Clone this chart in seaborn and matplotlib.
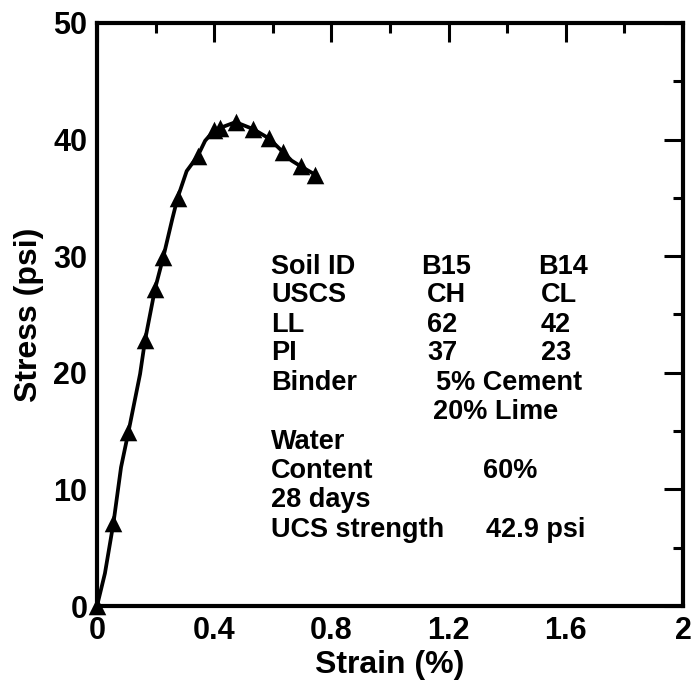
import matplotlib
matplotlib.use("Agg")
import matplotlib.pyplot as plt
import seaborn as sns
import pandas as pd
from matplotlib.ticker import MultipleLocator

# ---- data ----
curve_strain = [0.0, 0.027, 0.056, 0.082, 0.107, 0.147, 0.164, 0.198, 0.226, 0.257,
                0.275, 0.306, 0.344, 0.369, 0.400, 0.420, 0.473, 0.533, 0.587, 0.636,
                0.664, 0.696, 0.744]
curve_stress = [0.0, 2.8, 7.1, 11.9, 14.9, 19.9, 22.8, 27.2, 29.9, 33.2,
                35.0, 37.3, 38.6, 39.9, 40.8, 41.0, 41.5, 40.9, 40.1, 38.9,
                38.2, 37.7, 37.0]
marker_strain = [0.0, 0.056, 0.107, 0.164, 0.198, 0.226, 0.275, 0.344, 0.400, 0.420,
                 0.473, 0.533, 0.587, 0.636, 0.696, 0.744]
marker_stress = [0.0, 7.1, 14.9, 22.8, 27.2, 29.9, 35.0, 38.6, 40.8, 41.0,
                 41.5, 40.9, 40.1, 38.9, 37.7, 37.0]

x_ticks = [0, 0.4, 0.8, 1.2, 1.6, 2]
x_ticklabels = ["0", "0.4", "0.8", "1.2", "1.6", "2"]
y_ticks = [0, 10, 20, 30, 40, 50]
y_ticklabels = ["0", "10", "20", "30", "40", "50"]

col1_text = ["Soil ID", "USCS", "LL", "PI", "Binder", "", "Water", "Content", "28 days", "UCS strength"]
col2_text = ["B15", "CH", "62", "37", "5% Cement", "20% Lime", "", "60%", "", "42.9 psi"]
col3_text = ["B14", "CL", "42", "23", "", "", "", "", "", ""]
row_y = [28.5, 26.03, 23.54, 21.06, 18.49, 16.01, 13.44, 10.96, 8.48, 5.91]
col2_x = [1.106, 1.126, 1.126, 1.126, 1.157, 1.147, 0, 1.317, 0, 1.328]
col3_x = [1.505, 1.515, 1.515, 1.515, 0, 0, 0, 0, 0, 0]

sns.set_style("white")
plt.rcParams['font.family'] = ['Liberation Sans', 'DejaVu Sans']
plt.rcParams['font.weight'] = 'bold'
plt.rcParams['text.color'] = 'black'
plt.rcParams['axes.labelcolor'] = 'black'
plt.rcParams['xtick.color'] = 'black'
plt.rcParams['ytick.color'] = 'black'

fig = plt.figure(figsize=(6.91, 6.86), dpi=100)
ax = fig.add_axes([0.1404, 0.1166, 0.8480, 0.8499])

curve = pd.DataFrame({"strain": curve_strain, "stress": curve_stress})
marks = pd.DataFrame({"strain": marker_strain, "stress": marker_stress})

sns.lineplot(data=curve, x="strain", y="stress", sort=False, color="black",
             linewidth=2.7, ax=ax, clip_on=False)
sns.scatterplot(data=marks, x="strain", y="stress", marker="^", s=160,
                color="black", linewidth=0, ax=ax, clip_on=False, zorder=5)

ax.set_xlim(0, 2)
ax.set_ylim(0, 50)
ax.set_xticks(x_ticks)
ax.set_xticklabels(x_ticklabels)
ax.set_yticks(y_ticks)
ax.set_yticklabels(y_ticklabels)
ax.xaxis.set_minor_locator(MultipleLocator(0.2))
ax.yaxis.set_minor_locator(MultipleLocator(5))

ax.tick_params(which="both", direction="in", top=True, right=True, width=2.2,
               color="black", labelcolor="black")
ax.tick_params(which="major", length=14, labelsize=22, pad=7)
ax.tick_params(which="minor", length=7.5)
for lab in ax.get_xticklabels() + ax.get_yticklabels():
    lab.set_fontweight("bold")

for sp in ax.spines.values():
    sp.set_linewidth(3)
    sp.set_color("black")

ax.set_xlabel("Strain (%)", fontsize=23, fontweight="bold", labelpad=3, color="black")
ax.set_ylabel("Stress (psi)", fontsize=23, fontweight="bold", labelpad=7, color="black")

for t, y in zip(col1_text, row_y):
    if t:
        ax.text(0.594, y, t, fontsize=19.5, fontweight="bold", ha="left", va="baseline", color="black")
for t, x, y in zip(col2_text, col2_x, row_y):
    if t:
        ax.text(x, y, t, fontsize=19.5, fontweight="bold", ha="left", va="baseline", color="black")
for t, x, y in zip(col3_text, col3_x, row_y):
    if t:
        ax.text(x, y, t, fontsize=19.5, fontweight="bold", ha="left", va="baseline", color="black")

fig.savefig("out.png", dpi=100)
